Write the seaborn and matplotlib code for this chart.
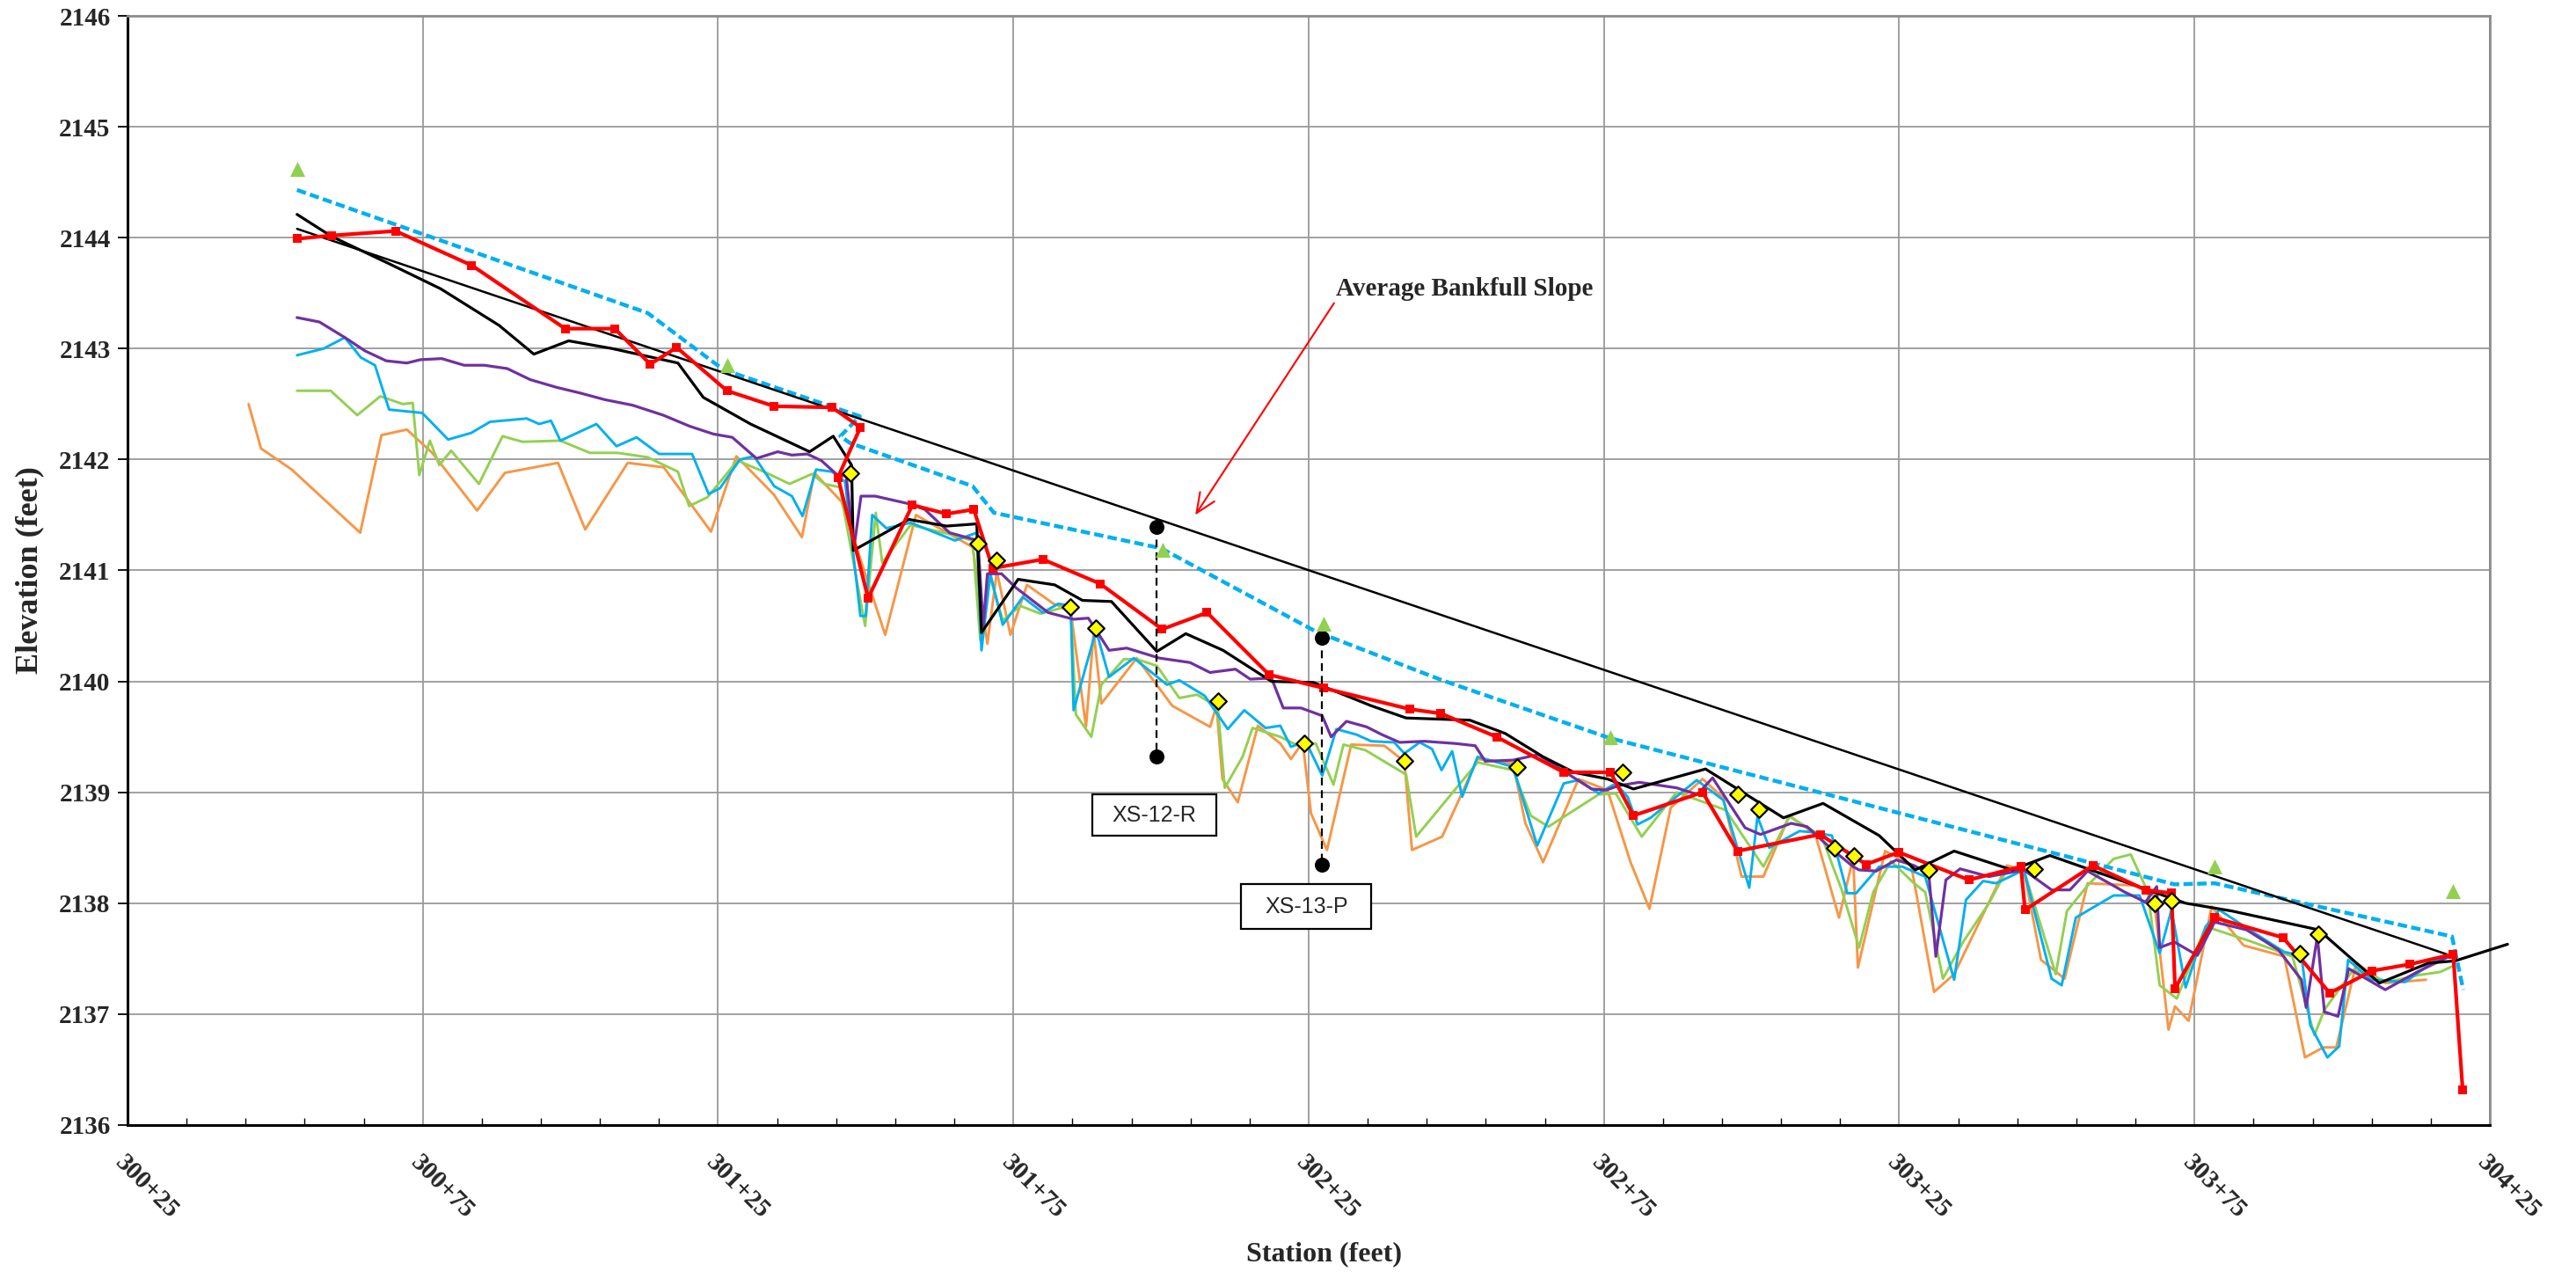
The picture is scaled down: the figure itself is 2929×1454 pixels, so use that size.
import matplotlib
matplotlib.use("Agg")
import matplotlib.pyplot as plt
import seaborn as sns
import numpy as np
from matplotlib.patches import Rectangle

# ---------------- data ----------------
tick_stations = [30025, 30075, 30125, 30175, 30225, 30275, 30325, 30375, 30425]
tick_labels = ["300+25", "300+75", "301+25", "301+75", "302+25", "302+75", "303+25", "303+75", "304+25"]
y_ticks = [2136, 2137, 2138, 2139, 2140, 2141, 2142, 2143, 2144, 2145, 2146]

red_st = [30053.7, 30059.6, 30070.4, 30083.3, 30099.1, 30107.5, 30113.5, 30118.0, 30126.5, 30134.5,
          30144.3, 30149.1, 30145.3, 30150.4, 30157.9, 30163.7, 30168.3, 30171.5, 30180.0, 30189.7,
          30200.2, 30207.8, 30218.3, 30227.5, 30242.1, 30247.4, 30256.8, 30268.2, 30276.1, 30280.0,
          30291.7, 30297.6, 30311.6, 30319.4, 30324.9, 30336.8, 30345.6, 30346.3, 30357.8, 30366.7,
          30371.1, 30371.7, 30378.4, 30390.0, 30397.9, 30405.0, 30411.5, 30418.8, 30420.4]
red_el = [2143.99, 2144.02, 2144.06, 2143.75, 2143.18, 2143.18, 2142.86, 2143.01, 2142.62, 2142.48,
          2142.47, 2142.29, 2141.84, 2140.75, 2141.59, 2141.51, 2141.55, 2141.02, 2141.10, 2140.88,
          2140.47, 2140.62, 2140.06, 2139.94, 2139.75, 2139.71, 2139.50, 2139.18, 2139.18, 2138.79,
          2139.00, 2138.47, 2138.62, 2138.35, 2138.46, 2138.21, 2138.33, 2137.94, 2138.34, 2138.12,
          2138.09, 2137.23, 2137.87, 2137.69, 2137.19, 2137.39, 2137.45, 2137.54, 2136.32]

black_st = [30053.7, 30059.6, 30069.5, 30078.0, 30087.9, 30093.8, 30099.7, 30107.1, 30118.2, 30122.5,
            30130.5, 30140.5, 30144.5, 30147.6, 30147.9, 30157.3, 30163.7, 30168.8, 30169.6, 30175.8,
            30182.0, 30186.7, 30191.6, 30199.3, 30204.2, 30210.5, 30218.7, 30225.8, 30235.6, 30241.5,
            30252.3, 30258.3, 30264.7, 30269.9, 30275.6, 30280.0, 30292.2, 30305.4, 30312.1, 30321.6,
            30327.7, 30334.3, 30344.1, 30350.5, 30373.5, 30381.3, 30396.0, 30406.3, 30414.6, 30419.1,
            30428.0]
black_el = [2144.21, 2144.01, 2143.76, 2143.54, 2143.21, 2142.95, 2143.07, 2143.00, 2142.87, 2142.56,
            2142.32, 2142.07, 2142.21, 2141.95, 2141.18, 2141.46, 2141.40, 2141.42, 2140.44, 2140.92,
            2140.87, 2140.73, 2140.72, 2140.27, 2140.43, 2140.28, 2140.00, 2139.99, 2139.78, 2139.67,
            2139.65, 2139.53, 2139.32, 2139.18, 2139.12, 2139.03, 2139.21, 2138.77, 2138.90, 2138.61,
            2138.30, 2138.47, 2138.30, 2138.43, 2138.00, 2137.93, 2137.76, 2137.28, 2137.46, 2137.48,
            2137.63]

bankfull_st = [30053.7, 30113.1, 30125.9, 30149.0, 30145.7, 30147.3, 30168.1, 30171.7, 30200.0, 30226.2,
               30247.6, 30275.9, 30371.6, 30378.4, 30418.6, 30420.5]
bankfull_el = [2144.43, 2143.32, 2142.81, 2142.39, 2142.21, 2142.15, 2141.76, 2141.52, 2141.20, 2140.45,
               2140.01, 2139.49, 2138.17, 2138.18, 2137.70, 2137.22]

slope_st = [30053.7, 30418.8]
slope_el = [2144.08, 2137.52]

tri_st = [30053.8, 30126.5, 30200.3, 30227.5, 30276.1, 30378.4, 30418.8]
tri_el = [2144.62, 2142.85, 2141.19, 2140.52, 2139.50, 2138.33, 2138.11]

dia_st = [30147.4, 30169.0, 30172.1, 30184.6, 30189.0, 30209.6, 30224.2, 30241.2, 30260.3, 30278.2,
          30297.6, 30301.3, 30314.1, 30317.4, 30330.0, 30347.8, 30368.3, 30371.1, 30392.8, 30396.0]
dia_el = [2141.88, 2141.24, 2141.09, 2140.67, 2140.48, 2139.82, 2139.44, 2139.28, 2139.23, 2139.18,
          2138.98, 2138.85, 2138.50, 2138.43, 2138.30, 2138.31, 2138.00, 2138.02, 2137.55, 2137.72]

xs12_st = [30199.2, 30199.2]
xs12_el = [2141.39, 2139.32]
xs13_st = [30227.3, 30227.3]
xs13_el = [2140.39, 2138.35]

purple_st = [30053.7, 30057.5, 30061.8, 30065.2, 30068.8, 30072.3, 30074.6, 30078.2, 30082.0, 30085.4,
             30089.3, 30093.2, 30097.7, 30101.6, 30105.8, 30110.5, 30115.7, 30120.2, 30124.2, 30127.4,
             30131.5, 30135.1, 30137.5, 30140.1, 30142.5, 30145.2, 30146.7, 30148.0, 30149.2, 30151.6,
             30157.4, 30160.0, 30164.2, 30167.6, 30169.0, 30169.9, 30170.6, 30173.0, 30175.3, 30180.9,
             30185.2, 30187.7, 30191.2, 30194.2, 30199.7, 30204.9, 30208.3, 30212.6, 30215.1, 30218.7,
             30220.7, 30223.7, 30227.3, 30228.8, 30231.4, 30234.8, 30237.4, 30240.4, 30244.6, 30247.2,
             30249.8, 30253.2, 30254.9, 30259.6, 30263.9, 30268.2, 30272.9, 30275.4, 30277.5, 30281.0,
             30287.3, 30290.8, 30293.4, 30298.9, 30301.5, 30306.7, 30309.4, 30313.3, 30317.2, 30318.2,
             30321.1, 30324.5, 30327.5, 30330.0, 30331.2, 30332.9, 30335.3, 30340.2, 30346.1, 30350.8,
             30353.9, 30356.9, 30363.2, 30366.7, 30368.6, 30369.1, 30371.6, 30375.5, 30378.4, 30383.8,
             30389.2, 30393.1, 30393.9, 30395.8, 30397.0, 30399.3, 30401.1, 30407.3, 30412.7, 30418.1]
purple_el = [2143.28, 2143.24, 2143.10, 2142.98, 2142.89, 2142.87, 2142.90, 2142.91, 2142.85, 2142.85,
             2142.82, 2142.72, 2142.65, 2142.60, 2142.54, 2142.49, 2142.40, 2142.30, 2142.23, 2142.20,
             2142.01, 2142.07, 2142.04, 2142.05, 2141.99, 2141.86, 2141.85, 2141.20, 2141.67, 2141.67,
             2141.60, 2141.55, 2141.34, 2141.29, 2141.27, 2140.50, 2140.97, 2140.97, 2140.85, 2140.62,
             2140.56, 2140.57, 2140.28, 2140.30, 2140.21, 2140.17, 2140.08, 2140.11, 2140.02, 2140.03,
             2139.76, 2139.76, 2139.69, 2139.50, 2139.64, 2139.59, 2139.52, 2139.45, 2139.46, 2139.45,
             2139.44, 2139.42, 2139.28, 2139.29, 2139.34, 2139.19, 2139.03, 2139.02, 2139.06, 2139.09,
             2139.04, 2138.98, 2139.13, 2138.68, 2138.62, 2138.72, 2138.69, 2138.50, 2138.33, 2138.30,
             2138.29, 2138.39, 2138.34, 2138.27, 2137.52, 2138.21, 2138.31, 2138.24, 2138.30, 2138.12,
             2138.12, 2138.29, 2138.10, 2138.01, 2138.15, 2137.60, 2137.65, 2137.53, 2137.83, 2137.76,
             2137.58, 2137.31, 2137.06, 2137.70, 2137.02, 2136.98, 2137.41, 2137.22, 2137.38, 2137.52]

cyan_st = [30053.7, 30058.2, 30061.8, 30064.5, 30066.9, 30069.3, 30074.9, 30079.3, 30083.2, 30086.4,
           30092.6, 30094.7, 30096.7, 30098.3, 30104.4, 30107.8, 30111.2, 30115.0, 30117.8, 30120.6,
           30123.4, 30125.3, 30128.7, 30131.1, 30134.5, 30137.5, 30139.3, 30141.6, 30144.3, 30146.5,
           30149.1, 30150.0, 30151.1, 30153.5, 30157.6, 30165.1, 30168.8, 30169.6, 30171.1, 30173.2,
           30176.6, 30180.0, 30182.6, 30184.7, 30185.2, 30189.0, 30191.2, 30195.4, 30201.0, 30203.1,
           30207.4, 30211.3, 30214.1, 30217.7, 30220.2, 30222.0, 30224.5, 30227.3, 30229.7, 30233.1,
           30235.6, 30239.5, 30241.2, 30243.8, 30245.9, 30247.5, 30249.3, 30251.0, 30253.6, 30259.6,
           30263.7, 30268.2, 30270.7, 30274.1, 30277.0, 30279.0, 30280.7, 30282.9, 30290.7, 30295.2,
           30299.6, 30301.0, 30303.0, 30308.1, 30310.3, 30313.6, 30316.2, 30317.7, 30321.6, 30325.5,
           30329.4, 30334.3, 30336.3, 30339.2, 30341.4, 30346.1, 30350.8, 30352.5, 30354.9, 30361.3,
           30365.7, 30369.1, 30371.1, 30373.5, 30376.9, 30379.2, 30384.3, 30390.2, 30393.1, 30394.6,
           30397.5, 30399.5, 30401.0, 30404.9, 30410.7, 30415.6, 30418.1]
cyan_el = [2142.94, 2143.00, 2143.10, 2142.92, 2142.85, 2142.45, 2142.42, 2142.18, 2142.24, 2142.34,
           2142.37, 2142.32, 2142.35, 2142.17, 2142.32, 2142.12, 2142.20, 2142.05, 2142.05, 2142.05,
           2141.69, 2141.74, 2142.00, 2142.03, 2141.76, 2141.67, 2141.49, 2141.91, 2141.89, 2141.80,
           2140.59, 2140.59, 2141.50, 2141.38, 2141.43, 2141.27, 2141.34, 2140.28, 2140.97, 2140.51,
           2140.76, 2140.62, 2140.70, 2140.68, 2139.74, 2140.46, 2140.04, 2140.21, 2139.97, 2140.01,
           2139.87, 2139.57, 2139.74, 2139.58, 2139.60, 2139.41, 2139.46, 2139.15, 2139.57, 2139.52,
           2139.46, 2139.45, 2139.35, 2139.45, 2139.39, 2139.20, 2139.37, 2138.96, 2139.32, 2139.23,
           2138.52, 2139.08, 2139.11, 2138.99, 2139.08, 2138.96, 2138.71, 2138.77, 2139.11, 2138.93,
           2138.14, 2138.78, 2138.50, 2138.65, 2138.64, 2138.61, 2138.09, 2138.09, 2138.33, 2138.33,
           2138.24, 2137.31, 2138.03, 2138.20, 2138.18, 2138.30, 2137.32, 2137.26, 2137.87, 2138.07,
           2138.07, 2137.55, 2137.94, 2137.24, 2137.79, 2137.94, 2137.76, 2137.56, 2137.53, 2136.90,
           2136.61, 2136.71, 2137.49, 2137.31, 2137.29, 2137.48, 2137.52]

green_st = [30053.7, 30059.4, 30063.9, 30067.8, 30071.6, 30073.3, 30074.4, 30076.2, 30077.8, 30079.8,
            30084.5, 30088.5, 30091.9, 30098.3, 30103.3, 30108.0, 30113.1, 30118.2, 30120.1, 30123.2,
            30128.3, 30133.2, 30137.1, 30140.9, 30143.0, 30145.6, 30149.9, 30151.7, 30152.8, 30157.6,
            30164.0, 30168.1, 30169.4, 30171.0, 30173.2, 30176.2, 30179.6, 30183.0, 30184.7, 30185.6,
            30188.2, 30189.9, 30193.7, 30195.9, 30199.3, 30203.1, 30206.1, 30209.6, 30210.8, 30213.8,
            30215.5, 30220.2, 30223.2, 30226.2, 30229.2, 30230.9, 30234.6, 30241.5, 30243.2, 30253.6,
            30259.6, 30262.6, 30265.6, 30274.1, 30277.0, 30281.4, 30287.3, 30295.6, 30302.0, 30306.4,
            30311.8, 30315.2, 30318.2, 30320.6, 30323.6, 30327.5, 30329.4, 30332.4, 30335.8, 30340.2,
            30343.2, 30346.1, 30351.5, 30353.4, 30356.9, 30361.3, 30364.2, 30367.1, 30369.1, 30372.0,
            30376.9, 30384.3, 30391.6, 30395.3, 30397.0, 30401.9, 30407.8, 30412.7, 30416.6, 30418.6]
green_el = [2142.62, 2142.62, 2142.40, 2142.57, 2142.50, 2142.51, 2141.86, 2142.17, 2141.95, 2142.08,
            2141.78, 2142.21, 2142.16, 2142.17, 2142.06, 2142.06, 2142.02, 2141.89, 2141.58, 2141.66,
            2141.99, 2141.88, 2141.78, 2141.87, 2141.78, 2141.75, 2140.50, 2141.52, 2141.07, 2141.41,
            2141.33, 2141.27, 2140.37, 2140.95, 2140.55, 2140.68, 2140.61, 2140.66, 2140.66, 2139.70,
            2139.50, 2139.97, 2140.20, 2140.20, 2140.14, 2139.85, 2139.88, 2139.77, 2139.04, 2139.32,
            2139.58, 2139.50, 2139.42, 2139.44, 2139.07, 2139.43, 2139.38, 2139.16, 2138.60, 2139.27,
            2139.20, 2138.79, 2138.69, 2138.98, 2138.99, 2138.60, 2139.00, 2138.84, 2138.33, 2138.78,
            2138.61, 2138.13, 2137.60, 2138.10, 2138.38, 2138.18, 2138.10, 2137.32, 2137.65, 2138.00,
            2138.30, 2138.30, 2137.36, 2137.93, 2138.16, 2138.40, 2138.44, 2138.10, 2137.26, 2137.14,
            2137.79, 2137.66, 2137.52, 2136.81, 2137.04, 2137.40, 2137.29, 2137.35, 2137.38, 2137.43]

orange_st = [30045.5, 30047.6, 30052.8, 30064.4, 30068.0, 30072.3, 30076.6, 30084.2, 30088.9, 30097.9,
             30102.5, 30109.7, 30115.8, 30123.8, 30128.1, 30134.5, 30139.2, 30141.3, 30145.9, 30153.3,
             30158.5, 30168.1, 30170.6, 30172.2, 30174.5, 30177.3, 30181.8, 30184.7, 30187.3, 30188.6,
             30189.9, 30195.9, 30201.9, 30208.3, 30209.4, 30210.4, 30213.0, 30216.4, 30220.2, 30222.0,
             30224.0, 30225.4, 30228.1, 30232.2, 30237.8, 30241.2, 30242.5, 30247.6, 30253.6, 30259.6,
             30261.7, 30264.7, 30270.7, 30275.6, 30279.5, 30282.7, 30286.3, 30291.7, 30295.2, 30298.3,
             30302.0, 30306.4, 30310.8, 30314.8, 30317.2, 30318.0, 30322.6, 30327.0, 30330.9, 30334.3,
             30343.2, 30346.1, 30349.0, 30353.0, 30356.9, 30364.7, 30368.0, 30370.6, 30371.7, 30374.0,
             30377.9, 30383.3, 30390.2, 30393.7, 30396.8, 30399.0, 30402.4, 30407.3, 30414.2]
orange_el = [2142.50, 2142.10, 2141.91, 2141.34, 2142.22, 2142.27, 2142.06, 2141.54, 2141.88, 2141.97,
             2141.37, 2141.97, 2141.93, 2141.35, 2142.03, 2141.68, 2141.30, 2141.88, 2141.62, 2140.42,
             2141.50, 2141.21, 2140.34, 2140.99, 2140.42, 2140.87, 2140.70, 2140.64, 2139.59, 2140.45,
             2139.80, 2140.21, 2139.78, 2139.59, 2139.78, 2139.12, 2138.91, 2139.60, 2139.44, 2139.30,
             2139.45, 2138.81, 2138.48, 2139.43, 2139.42, 2139.28, 2138.48, 2138.60, 2139.30, 2139.26,
             2138.72, 2138.37, 2139.12, 2139.02, 2138.37, 2137.95, 2138.86, 2139.12, 2138.95, 2138.24,
             2138.24, 2138.79, 2138.62, 2137.87, 2138.41, 2137.42, 2138.47, 2138.35, 2137.20, 2137.36,
             2138.34, 2138.30, 2137.49, 2137.32, 2138.18, 2138.16, 2138.10, 2136.86, 2137.07, 2136.94,
             2137.97, 2137.62, 2137.52, 2136.61, 2136.70, 2136.70, 2137.46, 2137.28, 2137.31]

# ---------------- style ----------------
sns.set_theme(style="white")
plt.rcParams['font.family'] = ['Liberation Serif', 'DejaVu Serif']
plt.rcParams['font.weight'] = 'bold'

C_ORANGE = '#F79646'
C_GREEN = '#92D050'
C_CYAN = '#00B0F0'
C_PURPLE = '#7030A0'
C_RED = '#FF0000'

fig = plt.figure(figsize=(29.29, 14.54), dpi=100)
ax = fig.add_axes([0.0495, 0.12036, 0.91704, 0.86726])

common = dict(sort=False, estimator=None, legend=False, ax=ax)

sns.lineplot(x=orange_st, y=orange_el, color=C_ORANGE, lw=2.1, zorder=3, **common)
sns.lineplot(x=green_st, y=green_el, color=C_GREEN, lw=2.1, zorder=3.1, **common)
sns.lineplot(x=cyan_st, y=cyan_el, color=C_CYAN, lw=2.1, zorder=3.2, **common)
sns.lineplot(x=purple_st, y=purple_el, color=C_PURPLE, lw=2.3, zorder=3.3, **common)
sns.lineplot(x=black_st, y=black_el, color='black', lw=2.3, zorder=4, clip_on=False, **common)
sns.lineplot(x=bankfull_st, y=bankfull_el, color=C_CYAN, lw=3.2, linestyle=(0, (2.4, 1.1)), zorder=4.5, **common)
sns.lineplot(x=slope_st, y=slope_el, color='black', lw=1.8, zorder=4.6, **common)
sns.lineplot(x=red_st, y=red_el, color=C_RED, lw=3.0, marker='s', markersize=6.5, markeredgewidth=0,
             zorder=5, **common)

# cross-section markers
for st, el in [(xs12_st, xs12_el), (xs13_st, xs13_el)]:
    sns.lineplot(x=st, y=el, color='black', lw=1.6, linestyle=(0, (4, 2.5)), zorder=5.5, **common)
    sns.scatterplot(x=st, y=el, color='black', s=150, marker='o', edgecolor='black', linewidth=0,
                    zorder=6, legend=False, ax=ax)

sns.scatterplot(x=tri_st, y=tri_el, color=C_GREEN, marker='^', s=150, linewidth=0, zorder=6,
                legend=False, ax=ax)
sns.scatterplot(x=dia_st, y=dia_el, color='#FFFF00', marker='D', s=90, edgecolor='black',
                linewidth=1.6, zorder=7, legend=False, ax=ax)

# ---------------- axes ----------------
ax.set_xlim(30025, 30425)
ax.set_ylim(2136, 2146)
ax.set_xticks(tick_stations)
ax.set_xticklabels(tick_labels, rotation=-45, ha='left', va='top', rotation_mode='anchor',
                   fontsize=21, fontweight='bold')
ax.set_xticks(np.arange(30025, 30426, 10), minor=True)
ax.set_yticks(y_ticks)
ax.set_yticklabels([str(v) for v in y_ticks], fontsize=21, fontweight='bold')

ax.tick_params(axis='x', which='major', direction='out', length=7, width=1.3, color='black', pad=14)
ax.tick_params(axis='x', which='minor', direction='in', length=6, width=1.0, color='black', bottom=True)
ax.tick_params(axis='y', which='major', direction='out', length=8, width=1.3, color='black', pad=6, left=True)

ax.grid(True, which='major', color='#9a9a9a', lw=1.3)
ax.set_axisbelow(True)
for side in ['top', 'right']:
    ax.spines[side].set_color('#8c8c8c')
    ax.spines[side].set_linewidth(2)
for side in ['left', 'bottom']:
    ax.spines[side].set_color('black')
    ax.spines[side].set_linewidth(2.2)

ax.set_xlabel('Station (feet)', fontsize=23, fontweight='bold')
ax.set_ylabel('Elevation (feet)', fontsize=26, fontweight='bold')
ax.xaxis.set_label_coords(0.5067, -0.1166)
ax.xaxis.label.set_va('center')
ax.yaxis.set_label_coords(-0.0413, 0.5)
ax.yaxis.label.set_va('center')

# annotation
ax.text(30229.6, 2143.43, 'Average Bankfull Slope', fontsize=21, fontweight='bold',
        ha='left', va='bottom', zorder=8)
ax.annotate('', xy=(30205.8, 2141.50), xytext=(30229.3, 2143.41),
            arrowprops=dict(arrowstyle='->,head_length=0.8,head_width=0.35', color=C_RED, lw=1.5,
                            mutation_scale=20, shrinkA=0, shrinkB=0), zorder=8)

# cross-section label boxes
boxes = [(30188.3, 2138.61, 21.1, 0.37, 'XS-12-R'), (30213.6, 2137.77, 22.0, 0.40, 'XS-13-P')]
for bx, by, bw, bh, lab in boxes:
    ax.add_patch(Rectangle((bx, by), bw, bh, facecolor='white', edgecolor='black', lw=1.6, zorder=8))
    ax.text(bx + bw / 2, by + bh / 2, lab, ha='center', va='center', fontsize=18,
            fontweight='normal', family=['Liberation Sans', 'DejaVu Sans'], zorder=9)

fig.savefig('out.png', dpi=100)
